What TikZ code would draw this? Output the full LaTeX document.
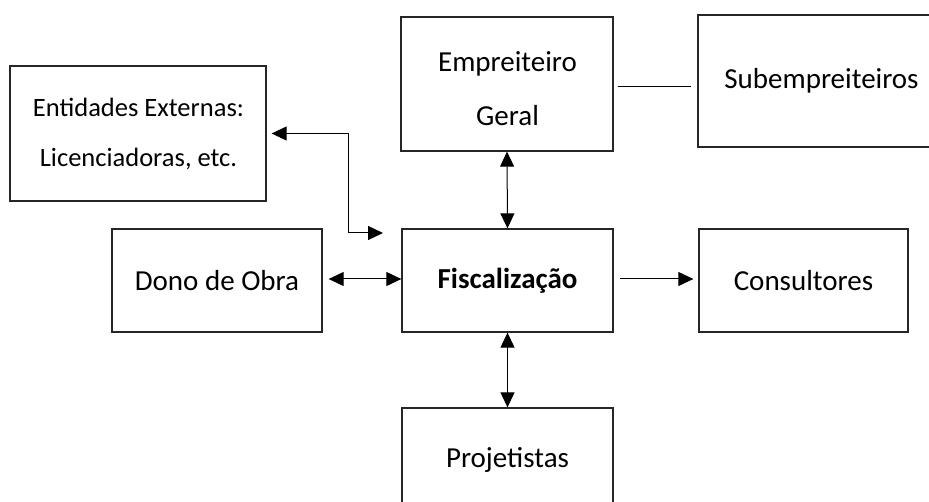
\documentclass[tikz,border=0pt]{standalone}
\usepackage{fontspec}
\setmainfont{Carlito}
\usetikzlibrary{arrows.meta}
\begin{document}
\begin{tikzpicture}[x=1pt,y=-1pt,
  box/.style={draw=black!85, line width=1.3pt, inner sep=0pt, align=center,
    font=\fontsize{29}{35}\selectfont},
  label text/.style={inner sep=0pt, align=center},
  link/.style={line width=1pt, black},
  tip/.style={-{Triangle[length=15pt,width=14pt]}},
  tips/.style={{Triangle[length=15pt,width=14pt]}-{Triangle[length=15pt,width=14pt]}}]
  \useasboundingbox (0,0) rectangle (929,502);

  % boxes
  \node[box, minimum width=256pt, minimum height=135pt]
    (ext) at (138,133.5) {};
  \node[label text, font=\fontsize{26.5}{50}\selectfont]
    (exttext) at (138.5,134) {Entidades Externas:\\Licenciadoras, etc.};
  \node[box, minimum width=212pt, minimum height=134pt]
    (emp) at (507,84) {};
  \node[label text, font=\fontsize{29}{54}\selectfont]
    (emptext) at (507.5,89) {Empreiteiro\\Geral};
  \node[box, minimum width=232pt, minimum height=132pt, text width=232pt]
    (sub) at (814,81) {\hspace*{15pt}Subempreiteiros};
  \node[box, minimum width=210pt, minimum height=103pt]
    (dono) at (217,280.5) {Dono de Obra};
  \node[box, minimum width=211pt, minimum height=103pt]
    (fisc) at (507.5,280.5) {\bfseries Fiscaliza\c{c}\~ao};
  \node[box, minimum width=209pt, minimum height=103pt]
    (cons) at (803.5,280.5) {Consultores};
  \node[box, minimum width=211pt, minimum height=103pt]
    (proj) at (507.5,459.5) {Projetistas};

  % connectors
  \coordinate (bend) at (348,233);
  \coordinate (extend) at (383,233);
  \draw[link, tips] (extend) -- (bend) |- ([xshift=5pt]ext.east);
  \draw[link, tips] (emp.south) -- (fisc.north);
  \draw[link, tips] (fisc.south) -- (proj.north);
  \draw[link, tips, shorten <=6pt] ([yshift=1.5pt]dono.east) -- ([yshift=1.5pt]fisc.west);
  \draw[link, tip, shorten <=6pt, shorten >=5pt] ([yshift=1.5pt]fisc.east) -- ([yshift=1.5pt]cons.west);
  \draw[link, shorten <=4pt, shorten >=6pt] ([yshift=-3pt]emp.east) -- ([yshift=-6pt]sub.west);
\end{tikzpicture}
\end{document}
